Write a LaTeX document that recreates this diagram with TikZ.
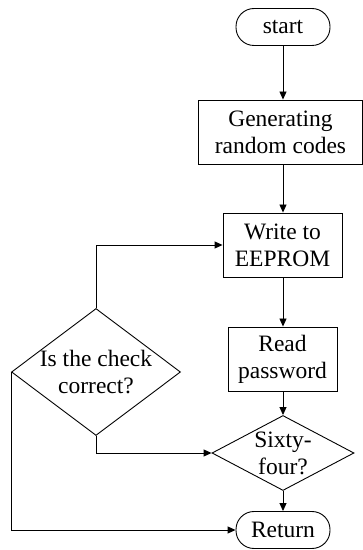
\documentclass[tikz,border=0pt]{standalone}
\usepackage{fontspec}
\setmainfont{Liberation Serif}
\usepackage{tikz}
\usetikzlibrary{arrows.meta, shapes.geometric}

\newcommand{\flowfont}{\fontsize{23.5}{27}\selectfont}

\begin{document}
\begin{tikzpicture}[
  x=1pt, y=1pt,
  >={Triangle[length=8pt, width=7pt]},
  term/.style={rectangle, rounded corners=18pt, draw=black, line width=0.9pt, minimum width=94pt, minimum height=37pt, inner sep=0pt, font=\flowfont},
  proc/.style={rectangle, draw=black, line width=0.9pt, minimum height=64pt, inner sep=0pt, align=center, font=\flowfont},
  dec/.style={diamond, draw=black, line width=0.9pt, inner sep=-20pt, align=center, font=\flowfont}
]
  \useasboundingbox (0,0) rectangle (363,550);

  \node[term] (start) at (283,523) {start};
  \node[proc, minimum width=164pt] (gen) at (280.5,418) {Generating\\random codes};
  \node[proc, minimum width=119pt] (write) at (282.5,305) {Write to\\EEPROM};
  \node[proc, minimum width=109pt] (read) at (282.5,191) {Read\\password};
  \node[dec, minimum width=142pt, minimum height=75pt] (sixty) at (283,97) {Sixty-\\four?};
  \node[dec, minimum width=169pt, minimum height=127pt] (check) at (96,178) {Is the check\\correct?};
  \node[term] (ret) at (283,20) {Return};

  \draw[->, line width=0.9pt] (start.south) -- (start.south |- gen.north);
  \draw[->, line width=0.9pt] (start.south |- gen.south) -- (start.south |- write.north);
  \draw[->, line width=0.9pt] (start.south |- write.south) -- (start.south |- read.north);
  \draw[->, line width=0.9pt] (start.south |- read.south) -- (sixty.north);
  \draw[->, line width=0.9pt] (sixty) -- (ret);
  \draw[->, line width=0.9pt] (check.north) |- (write.west);
  \draw[->, line width=0.9pt] (check.south) |- (sixty.west);
  \draw[->, line width=0.9pt] (check.west) |- (ret.west);
\end{tikzpicture}
\end{document}
